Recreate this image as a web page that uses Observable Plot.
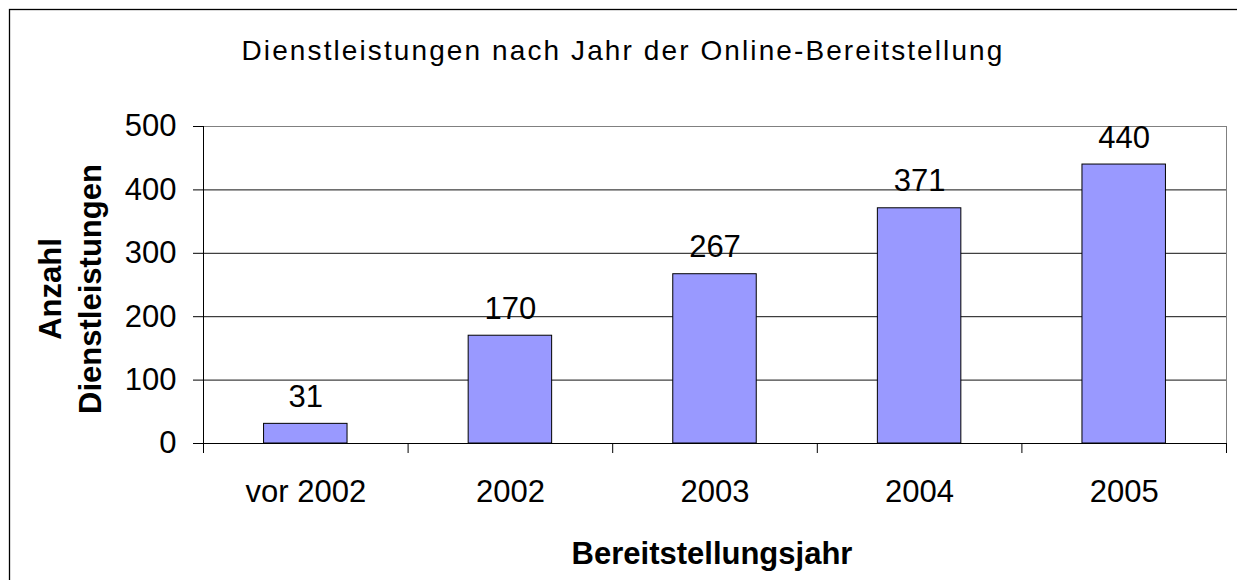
<!DOCTYPE html>
<html><head><meta charset="utf-8">
<script src="https://cdn.jsdelivr.net/npm/d3@7"></script>
<script src="https://cdn.jsdelivr.net/npm/@observablehq/plot@0.6"></script>
<style>html,body{margin:0;padding:0;background:#fff;overflow:hidden}</style>
</head><body><div id="chart"></div>
<script>
const categories = ["vor 2002", "2002", "2003", "2004", "2005"];
const values = [31, 170, 267, 371, 440];
const yTicks = [0, 100, 200, 300, 400, 500];
const gridTicks = [100, 200, 300, 400];
const title = "Dienstleistungen nach Jahr der Online-Bereitstellung";
const xTitle = "Bereitstellungsjahr";
const yTitle = "Anzahl\nDienstleistungen";

const data = categories.map((c, i) => ({cat: c, value: values[i]}));
const W = 1237, H = 580, mL = 203, mR = 11, mT = 126, mB = 137;
const step = (W - mL - mR) / categories.length;
const font = "'Liberation Sans', Arial, sans-serif";

const chart = Plot.plot({
  width: W, height: H,
  marginLeft: mL, marginRight: mR, marginTop: mT, marginBottom: mB,
  style: {fontFamily: font, background: "#fff", color: "#000"},
  x: {domain: categories, paddingInner: 0.592, paddingOuter: 0.296, round: false, axis: null},
  y: {domain: [0, 500], axis: null},
  marks: [
    Plot.frame({stroke: "#000", strokeWidth: 1.3, insetLeft: -(mL - 9), insetTop: -(mT - 9), insetRight: -(mR + 40), insetBottom: -(mB + 40)}),
    Plot.gridY(gridTicks, {stroke: "#111", strokeOpacity: 1}),
    Plot.frame({stroke: "#808080"}),
    Plot.barY(data, {x: "cat", y: "value", fill: "#9999FF", stroke: "#000", strokeWidth: 1}),
    Plot.ruleY([0], {stroke: "#000"}),
    Plot.ruleX([categories[0]], {dx: -step / 2, y1: 0, y2: 500, stroke: "#000"}),
    Plot.ruleX(categories, {dx: -step / 2, y1: 0, y2: 0, insetBottom: -10, stroke: "#000"}),
    Plot.ruleX([categories[categories.length - 1]], {dx: step / 2, y1: 0, y2: 0, insetBottom: -10, stroke: "#000"}),
    Plot.axisY({ticks: yTicks, tickSize: 10, tickPadding: 17, fontSize: 31, label: null, stroke: "#000"}),
    Plot.axisX({tickSize: 0, tickPadding: 36, fontSize: 31, label: null}),
    Plot.text(data, {x: "cat", y: "value", text: d => String(d.value), lineAnchor: "bottom", dy: -17, fontSize: 31, fill: "#000"}),
    Plot.text([title], {frameAnchor: "top", dx: -92, dy: -67, lineAnchor: "bottom", fontSize: 28, fill: "#000"}),
    Plot.text([xTitle], {frameAnchor: "bottom", dx: -3, dy: 120, lineAnchor: "bottom", fontSize: 31, fontWeight: "bold", fill: "#000"}),
    Plot.text([yTitle], {frameAnchor: "left", textAnchor: "middle", dx: -135, dy: 4, rotate: -90, lineAnchor: "middle", lineHeight: 1.29, fontSize: 31, fontWeight: "bold", fill: "#000"})
  ]
});
d3.select(chart).selectAll("text").filter(function() { return this.textContent === title; })
  .style("letter-spacing", "2.1px");
document.getElementById("chart").appendChild(chart);
</script>
</body></html>
